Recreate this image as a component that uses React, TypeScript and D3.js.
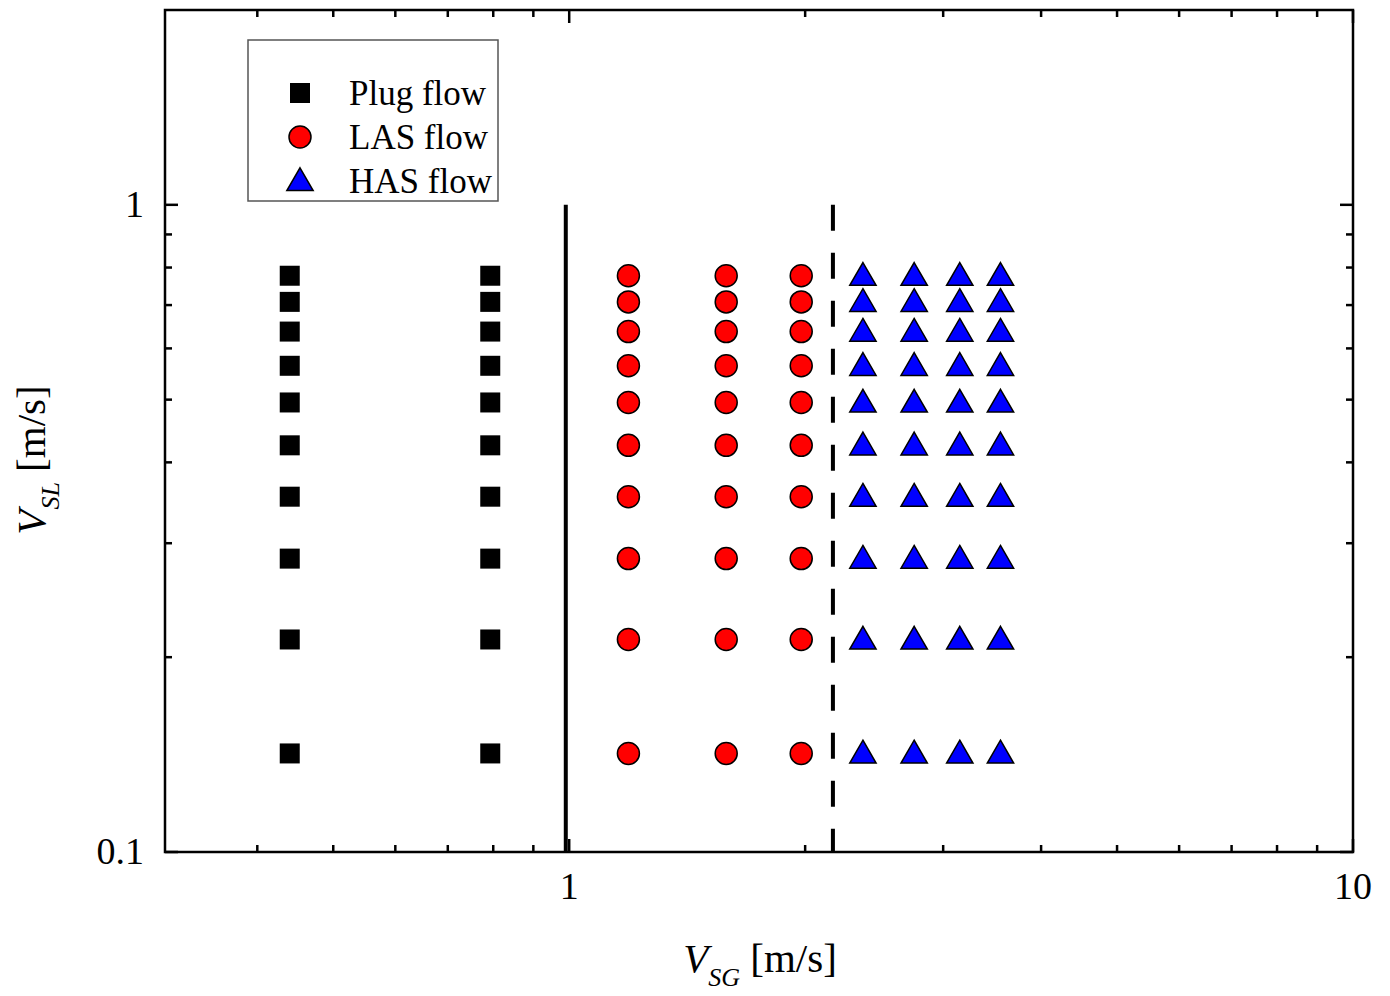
import React from "react";
import * as d3 from "d3";

const plugX = [0.44, 0.793];
const lasX = [1.19, 1.586, 1.977];
const hasX = [2.37, 2.755, 3.15, 3.55];
const vslValues = [0.777, 0.708, 0.637, 0.564, 0.495, 0.425, 0.354, 0.284, 0.213, 0.142];
const xMajorTicks = [1, 10];
const xMinorTicks = [0.4, 0.5, 0.6, 0.7, 0.8, 0.9, 2, 3, 4, 5, 6, 7, 8, 9];
const yMajorTicks = [0.1, 1];
const yMinorTicks = [0.2, 0.3, 0.4, 0.5, 0.6, 0.7, 0.8, 0.9];
const solidBoundaryX = 0.99;
const dashedBoundaryX = 2.17;
const boundaryY = [0.1, 1];
const legendItems = ["Plug flow", "LAS flow", "HAS flow"];

const W = 1390, H = 996;
const L = 165, R = 1353, T = 10, B = 852;
const FONT = "'Liberation Serif', 'Times New Roman', serif";

export default function App() {
  const x = d3.scaleLog().domain([0.305, 10]).range([L, R]);
  const y = d3.scaleLog().domain([0.1, 2]).range([B, T]);
  const tri = d3.symbol().type(d3.symbolTriangle).size(300)();

  const points: { kind: number; x: number; y: number }[] = [];
  plugX.forEach((vx) => vslValues.forEach((vy) => points.push({ kind: 0, x: vx, y: vy })));
  lasX.forEach((vx) => vslValues.forEach((vy) => points.push({ kind: 1, x: vx, y: vy })));
  hasX.forEach((vx) => vslValues.forEach((vy) => points.push({ kind: 2, x: vx, y: vy })));

  const marker = (kind: number, cx: number, cy: number, key: string) => {
    if (kind === 0) return <rect key={key} x={cx - 10} y={cy - 10} width={20} height={20} fill="#000" />;
    if (kind === 1) return <circle key={key} cx={cx} cy={cy} r={11} fill="#ff0000" stroke="#000" strokeWidth={1.5} />;
    return <path key={key} d={tri as string} transform={`translate(${cx},${cy + 2})`} fill="#0000ff" stroke="#000" strokeWidth={1.5} />;
  };

  const majLen = 13, minLen = 7;
  return (
    <svg width={W} height={H} style={{ position: "absolute", left: 0, top: 0, background: "#fff" }}>
      {/* boundaries */}
      <line x1={x(solidBoundaryX)} x2={x(solidBoundaryX)} y1={y(boundaryY[0])} y2={y(boundaryY[1])} stroke="#000" strokeWidth={4} />
      <line x1={x(dashedBoundaryX)} x2={x(dashedBoundaryX)} y1={y(boundaryY[1])} y2={y(boundaryY[0])} stroke="#000" strokeWidth={4} strokeDasharray="26,22" />

      {/* points */}
      {points.map((p, i) => marker(p.kind, x(p.x), y(p.y), "p" + i))}

      {/* frame */}
      <rect x={L} y={T} width={R - L} height={B - T} fill="none" stroke="#000" strokeWidth={2.5} />

      {/* ticks */}
      {xMajorTicks.map((t) => (
        <g key={"xM" + t}>
          <line x1={x(t)} x2={x(t)} y1={B} y2={B - majLen} stroke="#000" strokeWidth={2.5} />
          <line x1={x(t)} x2={x(t)} y1={T} y2={T + majLen} stroke="#000" strokeWidth={2.5} />
          <text x={x(t)} y={B + 47} textAnchor="middle" fontFamily={FONT} fontSize={38}>{t}</text>
        </g>
      ))}
      {xMinorTicks.map((t) => (
        <g key={"xm" + t}>
          <line x1={x(t)} x2={x(t)} y1={B} y2={B - minLen} stroke="#000" strokeWidth={2.5} />
          <line x1={x(t)} x2={x(t)} y1={T} y2={T + minLen} stroke="#000" strokeWidth={2.5} />
        </g>
      ))}
      {yMajorTicks.map((t) => (
        <g key={"yM" + t}>
          <line x1={L} x2={L + majLen} y1={y(t)} y2={y(t)} stroke="#000" strokeWidth={2.5} />
          <line x1={R} x2={R - majLen} y1={y(t)} y2={y(t)} stroke="#000" strokeWidth={2.5} />
          <text x={L - 21} y={y(t) + 12} textAnchor="end" fontFamily={FONT} fontSize={38}>{t}</text>
        </g>
      ))}
      {yMinorTicks.map((t) => (
        <g key={"ym" + t}>
          <line x1={L} x2={L + minLen} y1={y(t)} y2={y(t)} stroke="#000" strokeWidth={2.5} />
          <line x1={R} x2={R - minLen} y1={y(t)} y2={y(t)} stroke="#000" strokeWidth={2.5} />
        </g>
      ))}

      {/* axis titles */}
      <text x={760} y={972} textAnchor="middle" fontFamily={FONT} fontSize={41}>
        <tspan fontStyle="italic">V</tspan>
        <tspan fontStyle="italic" fontSize={26} dy={14}>SG</tspan>
        <tspan dy={-14}> [m/s]</tspan>
      </text>
      <text transform="translate(45,460) rotate(-90)" textAnchor="middle" fontFamily={FONT} fontSize={41}>
        <tspan fontStyle="italic">V</tspan>
        <tspan fontStyle="italic" fontSize={26} dy={14}>SL</tspan>
        <tspan dy={-14}> [m/s]</tspan>
      </text>

      {/* legend */}
      <rect x={248} y={40} width={250} height={161} fill="#fff" stroke="#555" strokeWidth={1.5} />
      {legendItems.map((name, i) => {
        const cy = 93 + i * 44;
        return (
          <g key={name}>
            {marker(i, 300, cy, "lg" + i)}
            <text x={349} y={cy + 12} fontFamily={FONT} fontSize={35}>{name}</text>
          </g>
        );
      })}
    </svg>
  );
}
